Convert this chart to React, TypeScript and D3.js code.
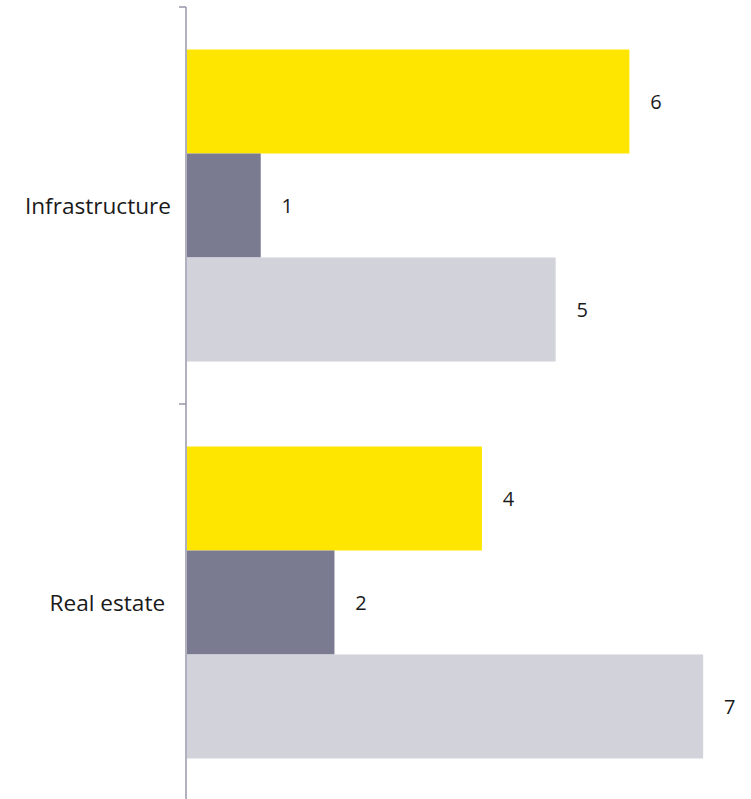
import React from "react";
import * as d3 from "d3";

const categories = ["Infrastructure", "Real estate "];
const seriesNames = ["Series A", "Series B", "Series C"];
const infrastructureValues = [6, 1, 5];
const realEstateValues = [4, 2, 7];
const colors = ["#FFE600", "#7A7A91", "#D2D2DA"];

const W = 751;
const H = 799;

export default function App() {
  const values = [infrastructureValues, realEstateValues];
  const x = d3.scaleLinear().domain([0, 7.5]).range([187, 740]);
  const y = d3.scaleBand<string>().domain(categories).range([7, 801]).padding(0);
  const inner = d3
    .scaleBand<string>()
    .domain(seriesNames)
    .range([0, y.bandwidth()])
    .paddingInner(0)
    .paddingOuter(0.4087);
  const font = "'Open Sans', 'Liberation Sans', sans-serif";
  return (
    <svg
      width={W}
      height={H}
      style={{ position: "absolute", left: 0, top: 0, background: "#fff" }}
    >
      {categories.map((c, ci) => (
        <g key={c}>
          {seriesNames.map((s, si) => {
            const v = values[ci][si];
            const y0 = (y(c) as number) + (inner(s) as number);
            return (
              <g key={s}>
                <rect
                  x={x(0)}
                  y={y0}
                  width={x(v) - x(0)}
                  height={inner.bandwidth()}
                  fill={colors[si]}
                />
                <text
                  x={x(v) + 26.5}
                  y={y0 + inner.bandwidth() / 2}
                  dy="0.36em"
                  textAnchor="middle"
                  fontFamily={font}
                  fontWeight={400}
                  fontSize={20}
                  fill="#1a1a1a"
                >
                  {v}
                </text>
              </g>
            );
          })}
          <text
            x={171}
            y={(y(c) as number) + y.bandwidth() / 2}
            dy="0.36em"
            textAnchor="end"
            fontFamily={font}
            fontWeight={400}
            fontSize={22.6}
            fill="#1a1a1a"
            style={{ whiteSpace: "pre" }}
          >
            {c}
          </text>
        </g>
      ))}
      <line x1={186} x2={186} y1={7} y2={H} stroke="#9696aa" strokeWidth={1.5} />
      {categories.map((c) => (
        <line
          key={c}
          x1={179}
          x2={186}
          y1={y(c) as number}
          y2={y(c) as number}
          stroke="#9696aa"
          strokeWidth={1.5}
        />
      ))}
    </svg>
  );
}
